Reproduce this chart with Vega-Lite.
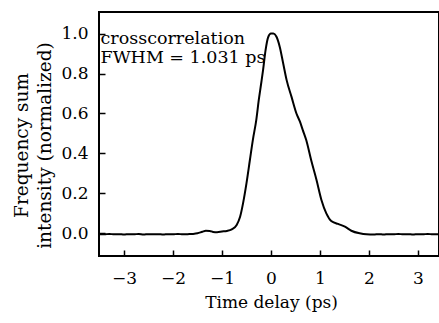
{
  "$schema": "https://vega.github.io/schema/vega-lite/v6.json",
  "width": 340,
  "height": 244,
  "autosize": {"type": "none"},
  "padding": {"left": 99, "top": 12, "right": 0, "bottom": 67},
  "background": "white",
  "config": {
    "font": "DejaVu Serif",
    "text": {"font": "DejaVu Serif"},
    "view": {"stroke": "black", "strokeWidth": 2},
    "axis": {"domain": false, "grid": false, "tickColor": "black", "tickWidth": 1.5, "labelColor": "black", "titleColor": "black", "labelFont": "DejaVu Serif", "titleFont": "DejaVu Serif", "titleFontWeight": "normal"}
  },
  "datasets": {
    "curve": [
      {"t": -3.51, "v": -0.004}, {"t": -3.4, "v": -0.005}, {"t": -3.3, "v": -0.003}, {"t": -3.2, "v": -0.005},
      {"t": -3.1, "v": -0.004}, {"t": -3.0, "v": -0.006}, {"t": -2.9, "v": -0.004}, {"t": -2.8, "v": -0.005},
      {"t": -2.7, "v": -0.003}, {"t": -2.6, "v": -0.006}, {"t": -2.5, "v": -0.004}, {"t": -2.4, "v": -0.005},
      {"t": -2.3, "v": -0.004}, {"t": -2.2, "v": -0.006}, {"t": -2.1, "v": -0.004}, {"t": -2.0, "v": -0.005},
      {"t": -1.9, "v": -0.003}, {"t": -1.8, "v": -0.005}, {"t": -1.7, "v": -0.004}, {"t": -1.6, "v": -0.003},
      {"t": -1.5, "v": 0.0}, {"t": -1.4, "v": 0.008}, {"t": -1.33, "v": 0.013}, {"t": -1.25, "v": 0.012},
      {"t": -1.18, "v": 0.007}, {"t": -1.1, "v": 0.006}, {"t": -1.0, "v": 0.009}, {"t": -0.9, "v": 0.012},
      {"t": -0.8, "v": 0.02}, {"t": -0.7, "v": 0.042}, {"t": -0.63, "v": 0.083}, {"t": -0.57, "v": 0.15},
      {"t": -0.5, "v": 0.25}, {"t": -0.43, "v": 0.367}, {"t": -0.37, "v": 0.467}, {"t": -0.3, "v": 0.567},
      {"t": -0.25, "v": 0.665}, {"t": -0.2, "v": 0.75}, {"t": -0.16, "v": 0.82}, {"t": -0.11, "v": 0.917},
      {"t": -0.06, "v": 0.98}, {"t": 0.0, "v": 1.0}, {"t": 0.05, "v": 1.0}, {"t": 0.11, "v": 0.985},
      {"t": 0.18, "v": 0.933}, {"t": 0.25, "v": 0.85}, {"t": 0.32, "v": 0.767}, {"t": 0.42, "v": 0.683},
      {"t": 0.52, "v": 0.6}, {"t": 0.59, "v": 0.56}, {"t": 0.65, "v": 0.517}, {"t": 0.72, "v": 0.467},
      {"t": 0.82, "v": 0.367}, {"t": 0.93, "v": 0.267}, {"t": 1.03, "v": 0.167}, {"t": 1.13, "v": 0.1},
      {"t": 1.23, "v": 0.062}, {"t": 1.37, "v": 0.047}, {"t": 1.51, "v": 0.033}, {"t": 1.64, "v": 0.013},
      {"t": 1.81, "v": 0.0}, {"t": 1.95, "v": -0.005}, {"t": 2.1, "v": -0.006}, {"t": 2.2, "v": -0.004},
      {"t": 2.3, "v": -0.006}, {"t": 2.4, "v": -0.004}, {"t": 2.5, "v": -0.005}, {"t": 2.6, "v": -0.003},
      {"t": 2.7, "v": -0.005}, {"t": 2.8, "v": -0.004}, {"t": 2.9, "v": -0.006}, {"t": 3.0, "v": -0.004},
      {"t": 3.1, "v": -0.005}, {"t": 3.2, "v": -0.003}, {"t": 3.3, "v": -0.005}, {"t": 3.43, "v": -0.004}
    ],
    "notes": [
      {"t": -3.5, "v": 0.9465, "label": "crosscorrelation"},
      {"t": -3.5, "v": 0.855, "label": "FWHM = 1.031 ps"}
    ]
  },
  "layer": [
    {
      "data": {"name": "curve"},
      "mark": {"type": "line", "color": "black", "strokeWidth": 2, "interpolate": "monotone"},
      "encoding": {
        "x": {
          "field": "t", "type": "quantitative",
          "scale": {"domain": [-3.51, 3.43], "nice": false, "zero": false},
          "axis": {
            "title": "Time delay (ps)", "titleFontSize": 17, "titleColor": "black", "titleX": 172, "titleY": 57, "titleBaseline": "alphabetic",
            "values": [-3, -2.5, -2, -1.5, -1, -0.5, 0, 0.5, 1, 1.5, 2, 2.5, 3],
            "labelExpr": "abs(datum.value - round(datum.value)) < 0.01 ? format(datum.value, 'd') : ''",
            "offset": -6, "tickSize": {"condition": {"test": "abs(datum.value - round(datum.value)) < 0.01", "value": 6}, "value": 4},
            "labelFontSize": 17, "labelBaseline": "alphabetic", "labelPadding": 27.5, "labelFlush": false
          }
        },
        "y": {
          "field": "v", "type": "quantitative",
          "scale": {"domain": [-0.1135, 1.108], "nice": false, "zero": false},
          "axis": {
            "title": ["Frequency sum", "intensity (normalized)"], "titleFontSize": 18.5, "titleLineHeight": 23, "titleColor": "black",
            "titleX": -74, "titleY": 133,
            "values": [0, 0.1, 0.2, 0.3, 0.4, 0.5, 0.6, 0.7, 0.8, 0.9, 1.0],
            "labelExpr": "abs(datum.value * 5 - round(datum.value * 5)) < 0.01 ? format(datum.value, '.1f') : ''",
            "offset": -6, "tickSize": {"condition": {"test": "abs(datum.value * 5 - round(datum.value * 5)) < 0.01", "value": 6}, "value": 4},
            "labelFontSize": 17, "labelPadding": 11, "labelAlign": "right", "labelBaseline": "middle", "labelFlush": false
          }
        }
      }
    },
    {
      "data": {"name": "notes"},
      "mark": {"type": "text", "align": "left", "baseline": "alphabetic", "fontSize": 17.5, "color": "black", "dx": 1, "font": "DejaVu Serif"},
      "encoding": {
        "x": {"field": "t", "type": "quantitative"},
        "y": {"field": "v", "type": "quantitative"},
        "text": {"field": "label"}
      }
    }
  ]
}
